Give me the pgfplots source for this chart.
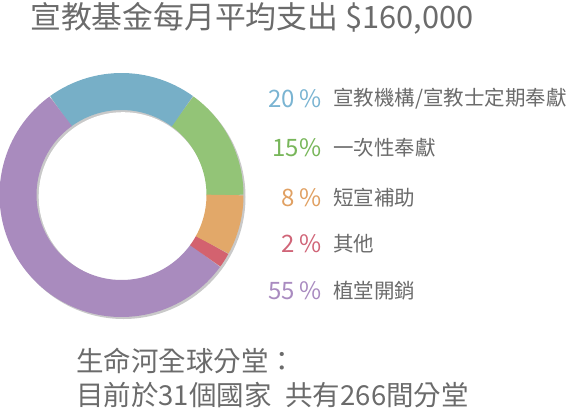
\documentclass[border=0pt]{standalone}
\usepackage{pgfplots}
\pgfplotsset{compat=1.18}
\usepackage{pgfplotstable}
\usepgfplotslibrary{polar}
\usepackage{fontspec}
\setmainfont{Noto Sans CJK TC}
\definecolor{sblue}{HTML}{77AFC7}
\definecolor{sgreen}{HTML}{93C477}
\definecolor{sorange}{HTML}{E2A869}
\definecolor{sred}{HTML}{D3626F}
\definecolor{spurple}{HTML}{A98BBE}
\definecolor{tblue}{HTML}{7AB4D2}
\definecolor{tgreen}{HTML}{78B65A}
\definecolor{torange}{HTML}{E0A062}
\definecolor{tred}{HTML}{D06578}
\definecolor{tpurple}{HTML}{A98BC0}
\definecolor{txt}{HTML}{6B6B6B}
\definecolor{shadow}{HTML}{C9C9C9}
\begin{document}
\begin{tikzpicture}
\path[use as bounding box] (0pt,0pt) rectangle (567pt,-409pt);
\begin{polaraxis}[at={(121.5pt,-195pt)}, anchor=center,
  width=244pt, height=244pt, scale only axis, hide axis,
  xmin=0, xmax=360, ymin=0, ymax=122, clip=false]
  \fill[shadow] ([xshift=2pt,yshift=-2pt]axis cs:0,0) circle[radius=122pt];
  \fill[white] ([xshift=1.5pt,yshift=-1.5pt]axis cs:0,0) circle[radius=84.3pt];
  % slices (share in percent -> degrees): 15% green, 20% blue, 55% purple, 2% red, 8% orange
  \addplot[draw=sgreen, line width=37pt, no markers, domain=0:54, samples=30] {103.5};
  \addplot[draw=sblue, line width=37pt, no markers, domain=54:126, samples=30] {103.5};
  \addplot[draw=spurple, line width=37pt, no markers, domain=126:324, samples=80] {103.5};
  \addplot[draw=sred, line width=37pt, no markers, domain=324:331.2, samples=5] {103.5};
  \addplot[draw=sorange, line width=37pt, no markers, domain=331.2:360, samples=15] {103.5};
\end{polaraxis}
% title
\node[anchor=west, inner sep=0, text=txt, font=\fontsize{30.8}{31}\selectfont] at (30pt,-18.5pt) {宣教基金每月平均支出 \$160,000};
% legend
\begin{scope}[every node/.style={inner sep=0}]
\node[anchor=east, text=tblue, font=\fontsize{24}{24}\selectfont] at (321.5pt,-99pt) {20\,\%};
\node[anchor=east, text=tgreen, font=\fontsize{24}{24}\selectfont] at (321.5pt,-147.5pt) {15\%};
\node[anchor=east, text=torange, font=\fontsize{24}{24}\selectfont] at (321.5pt,-197.5pt) {8\,\%};
\node[anchor=east, text=tred, font=\fontsize{24}{24}\selectfont] at (321.5pt,-244pt) {2\,\%};
\node[anchor=east, text=tpurple, font=\fontsize{24}{24}\selectfont] at (321.5pt,-291pt) {55\,\%};
\node[anchor=west, text=txt, font=\fontsize{20.5}{21}\selectfont] at (333pt,-99pt) {宣教機構/宣教士定期奉獻};
\node[anchor=west, text=txt, font=\fontsize{20.5}{21}\selectfont] at (333pt,-147.5pt) {一次性奉獻};
\node[anchor=west, text=txt, font=\fontsize{20.5}{21}\selectfont] at (333pt,-197.5pt) {短宣補助};
\node[anchor=west, text=txt, font=\fontsize{20.5}{21}\selectfont] at (333pt,-244pt) {其他};
\node[anchor=west, text=txt, font=\fontsize{20.5}{21}\selectfont] at (333pt,-291pt) {植堂開銷};
\node[anchor=west, text=txt, font=\fontsize{27.5}{28}\selectfont] at (76pt,-361pt) {生命河全球分堂：};
\node[anchor=west, text=txt, font=\fontsize{27.5}{28}\selectfont] at (76pt,-395pt) {目前於31個國家\hspace{0.5em}共有266間分堂};
\end{scope}
\end{tikzpicture}
\end{document}
